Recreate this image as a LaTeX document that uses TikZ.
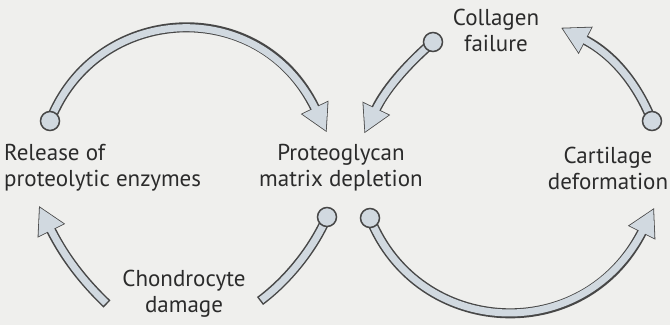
\documentclass[tikz,border=0pt]{standalone}
\usepackage{fontspec}
\setmainfont{PT Sans}
\usetikzlibrary{calc}
\definecolor{bgc}{HTML}{EFEFED}
\definecolor{edgec}{HTML}{474747}
\definecolor{bandc}{HTML}{D1D9E0}
\definecolor{txtc}{HTML}{2B2B2B}
\tikzset{
  outerband/.style={draw=edgec, line width=10pt, line cap=butt},
  innerband/.style={draw=bandc, line width=7pt, line cap=butt},
  headout/.style={fill=edgec, draw=edgec, line width=1.6pt, line join=miter},
  headin/.style={fill=bandc},
  knob/.style={fill=bandc, draw=edgec, line width=1.5pt},
  label/.style={text=txtc, inner sep=0pt, font=\fontsize{23}{26}\selectfont},
}
% arrow with knob at start and head at end: S, C1, C2, E
\newcommand{\knobheadarrow}[4]{%
  \draw[outerband] (#1) .. controls (#2) and (#3) .. (#4);
  \filldraw[headout] ($(#4)!-25pt!(#3)$) -- ($(#4)!14pt!90:(#3)$) -- ($(#4)!14pt!-90:(#3)$) -- cycle;
  \draw[innerband, shorten >=-3pt] (#1) .. controls (#2) and (#3) .. (#4);
  \fill[headin] ($(#4)!-25pt!(#3)$) -- ($(#4)!14pt!90:(#3)$) -- ($(#4)!14pt!-90:(#3)$) -- cycle;
  \filldraw[knob] (#1) circle (9.5pt);
}
% tail at start, head at end
\newcommand{\tailheadarrow}[4]{%
  \draw[outerband] (#1) .. controls (#2) and (#3) .. (#4);
  \filldraw[headout] ($(#4)!-25pt!(#3)$) -- ($(#4)!14pt!90:(#3)$) -- ($(#4)!14pt!-90:(#3)$) -- cycle;
  \draw[innerband, shorten >=-3pt, shorten <=1.5pt] (#1) .. controls (#2) and (#3) .. (#4);
  \fill[headin] ($(#4)!-25pt!(#3)$) -- ($(#4)!14pt!90:(#3)$) -- ($(#4)!14pt!-90:(#3)$) -- cycle;
}
% knob at start, tail at end
\newcommand{\knobtailarrow}[4]{%
  \draw[outerband] (#1) .. controls (#2) and (#3) .. (#4);
  \draw[innerband, shorten >=1.5pt] (#1) .. controls (#2) and (#3) .. (#4);
  \filldraw[knob] (#1) circle (9.5pt);
}
\begin{document}
\begin{tikzpicture}[x=1pt, y=-1pt]
  \fill[bgc] (0,0) rectangle (670,325);
  \useasboundingbox (0,0) rectangle (670,325);

  % text nodes
  \node[label, anchor=west, align=left] (release) at (4,168) {Release of\\proteolytic enzymes};
  \node[label, align=center] (proteo) at (341,168) {Proteoglycan\\matrix depletion};
  \node[label, align=center] (cart) at (608,168) {Cartilage\\deformation};
  \node[label, align=center] (coll) at (496,30) {Collagen\\failure};
  \node[label, align=center] (chondro) at (184,294) {Chondrocyte\\damage};

  % arrow end points
  \coordinate (aS) at (50,121);  \coordinate (aC1) at (96,3);   \coordinate (aC2) at (260,-6);  \coordinate (aE) at (315,108);
  \coordinate (bS) at (433,42);  \coordinate (bC1) at (412,60); \coordinate (bC2) at (387,86);  \coordinate (bE) at (376,109);
  \coordinate (cS) at (652,121); \coordinate (cC1) at (639,88); \coordinate (cC2) at (616,56);  \coordinate (cE) at (585,40);
  \coordinate (dS) at (370,218); \coordinate (dC1) at (418,338);\coordinate (dC2) at (584,347); \coordinate (dE) at (642,232);
  \coordinate (eS) at (327,217); \coordinate (eC1) at (313,249);\coordinate (eC2) at (288,280); \coordinate (eE) at (260,301);
  \coordinate (fS) at (107,304); \coordinate (fC1) at (84,282); \coordinate (fC2) at (65,258);  \coordinate (fE) at (51,230);

  \knobheadarrow{aS}{aC1}{aC2}{aE}
  \knobheadarrow{bS}{bC1}{bC2}{bE}
  \knobheadarrow{cS}{cC1}{cC2}{cE}
  \knobheadarrow{dS}{dC1}{dC2}{dE}
  \knobtailarrow{eS}{eC1}{eC2}{eE}
  \tailheadarrow{fS}{fC1}{fC2}{fE}
\end{tikzpicture}
\end{document}
